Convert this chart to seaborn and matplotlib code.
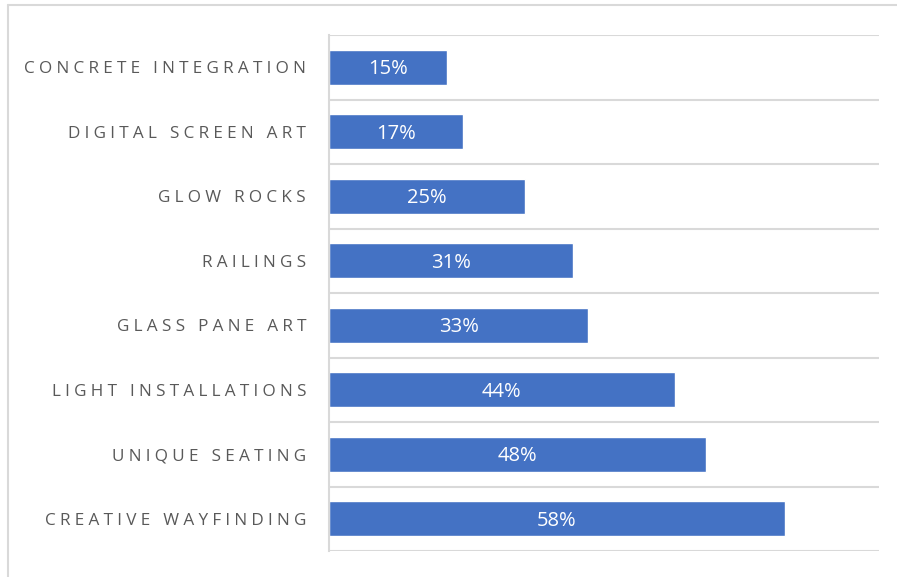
import matplotlib
matplotlib.use("Agg")
import matplotlib.pyplot as plt
import seaborn as sns
import pandas as pd
from matplotlib.lines import Line2D

categories = ["CONCRETE INTEGRATION", "DIGITAL SCREEN ART", "GLOW ROCKS", "RAILINGS",
              "GLASS PANE ART", "LIGHT INSTALLATIONS", "UNIQUE SEATING", "CREATIVE WAYFINDING"]
values = [0.15, 0.17, 0.25, 0.31, 0.33, 0.44, 0.48, 0.58]
value_labels = ["15%", "17%", "25%", "31%", "33%", "44%", "48%", "58%"]

sns.set_theme(style="white")
plt.rcParams['font.family'] = ['Open Sans', 'DejaVu Sans']

df = pd.DataFrame({"cat": categories, "val": values})

fig = plt.figure(figsize=(8.97, 5.77), dpi=100)
ax = fig.add_axes([329/897, 1 - 551/577, (879 - 329)/897, (551 - 35)/577])

sns.barplot(data=df, y="cat", x="val", orient="h", color="#4472C4", saturation=1,
            width=0.55, ax=ax)

ax.set_xlim(0, 0.70)
ax.set_ylim(len(categories) - 0.5, -0.5)
ax.set_xlabel("")
ax.set_ylabel("")
ax.set_xticks([])

for s in ["top", "right", "bottom"]:
    ax.spines[s].set_visible(False)
ax.spines["left"].set_color("#D9D9D9")
ax.spines["left"].set_linewidth(1.5)

ax.set_yticks([i - 0.5 for i in range(len(categories) + 1)], minor=True)
ax.grid(which="minor", axis="y", color="#D9D9D9", linewidth=1.5)
ax.grid(which="major", visible=False)

# emulate the letter spacing of the original labels
spaced = ["\u2005".join(c) for c in categories]
ax.set_yticks(range(len(categories)))
ax.set_yticklabels(spaced)
ax.tick_params(axis="y", which="both", length=0, pad=16.5, labelsize=12.3, labelcolor="#595959")
for lab in ax.get_yticklabels():
    lab.set_fontfamily(['Open Sans', 'DejaVu Sans'])

for i, (v, t) in enumerate(zip(values, value_labels)):
    ax.text(v / 2, i + 0.03, t, ha="center", va="center", color="white", fontsize=14.5)

# outer frame (top and left edges visible)
fig.add_artist(Line2D([8/897, 1], [1 - 5/577, 1 - 5/577], color="#D9D9D9", linewidth=1.5,
                      transform=fig.transFigure))
fig.add_artist(Line2D([8/897, 8/897], [0, 1 - 5/577], color="#D9D9D9", linewidth=1.5,
                      transform=fig.transFigure))

fig.savefig("out.png", dpi=100)
